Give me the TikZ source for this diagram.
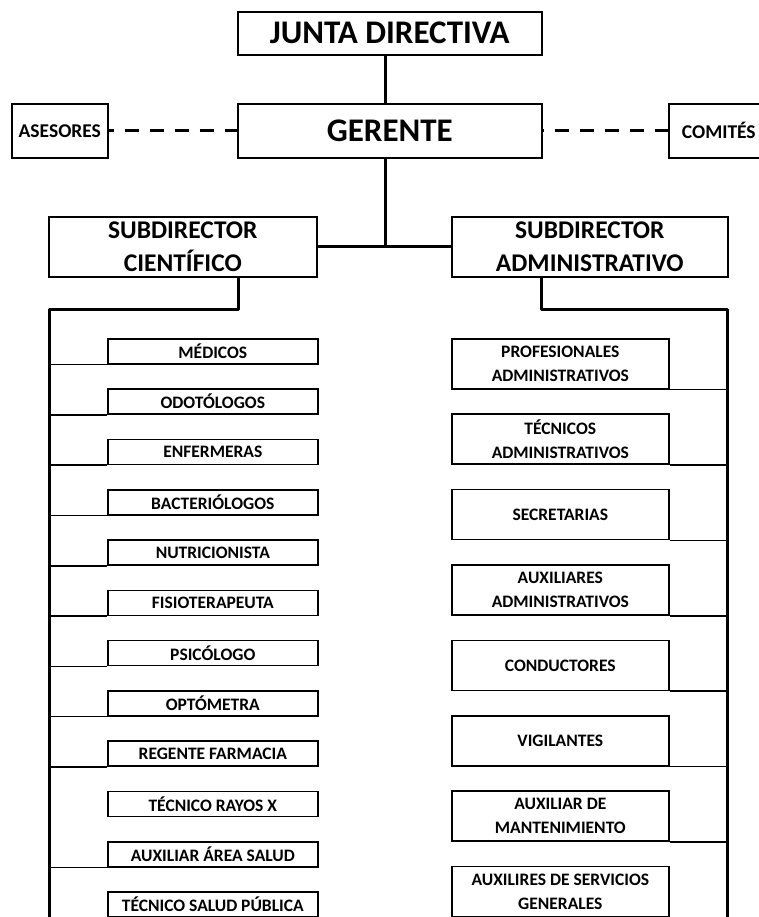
\documentclass[tikz,border=0pt]{standalone}
\usepackage{fontspec}
\setmainfont{Carlito}
\begin{document}
\begin{tikzpicture}[x=1pt,y=-1pt,
  box/.style={draw, line width=1.6pt, inner sep=0pt, anchor=north west, align=center, font=\bfseries},
  bigtxt/.style={font=\fontsize{33}{36}\selectfont\bfseries},
  subtxt/.style={font=\fontsize{25.5}{33}\selectfont\bfseries},
  sidetxt/.style={font=\fontsize{19.5}{22}\selectfont\bfseries},
  smalltxt/.style={font=\fontsize{17.5}{24}\selectfont\bfseries},
  main/.style={line width=3pt},
  dashline/.style={line width=3pt, dash pattern=on 14pt off 11pt},
  branch/.style={line width=1.5pt}]
\useasboundingbox (0,0) rectangle (758,917);
% top level
\node[box, bigtxt, minimum width=304pt, minimum height=43pt] (junta) at (237,11) {JUNTA DIRECTIVA};
\node[box, bigtxt, minimum width=304pt, minimum height=54pt] (gerente) at (237,103) {GERENTE};
\node[box, sidetxt, minimum width=96pt, minimum height=54pt] (asesores) at (11,103) {ASESORES};
\node[box, sidetxt, minimum width=100pt, minimum height=54pt] (comites) at (668,103) {COMITÉS};
\node[box, subtxt, minimum width=268pt, minimum height=60pt] (subc) at (48,216) {SUBDIRECTOR\\CIENTÍFICO};
\node[box, subtxt, minimum width=276pt, minimum height=60pt] (suba) at (451,216) {SUBDIRECTOR\\ADMINISTRATIVO};
% helper coordinates
\coordinate (spine) at (385,0);
\coordinate (lt) at (238,0);
\coordinate (lb1) at (238,309);
\coordinate (lb2) at (49,309);
\coordinate (lend) at (49,930);
\coordinate (rt) at (541,0);
\coordinate (rb1) at (541,309);
\coordinate (rb2) at (727,309);
\coordinate (rend) at (727,930);
% main connectors
\draw[main] (junta.south -| spine) -- (gerente.north -| spine);
\draw[main] (gerente.south -| spine) -- (spine |- subc.east);
\draw[main] (subc.east) -- (suba.west);
\draw[dashline, dash phase=9pt] (asesores.east) -- (gerente.west);
\draw[dashline, dash phase=13pt] (gerente.east) -- (comites.west);
\draw[main, line join=round] (subc.south -| lt) -- (lb1) -- (lb2) -- (lend);
\draw[main, line join=round] (suba.south -| rt) -- (rb1) -- (rb2) -- (rend);
% left column
\foreach \i/\t in {0/MÉDICOS,1/ODOTÓLOGOS,2/ENFERMERAS,3/BACTERIÓLOGOS,4/NUTRICIONISTA,5/FISIOTERAPEUTA,6/PSICÓLOGO,7/OPTÓMETRA,8/REGENTE FARMACIA,9/TÉCNICO RAYOS X,10/AUXILIAR ÁREA SALUD,11/TÉCNICO SALUD PÚBLICA}{
  \node[box, smalltxt, minimum width=210pt, minimum height=25pt] (l\i) at (107,{338+50.3*\i}) {\t};
}
\foreach \i in {0,1,2,3,4,5,6,7,8,10,11}{
  \draw[branch] (l\i.south west) -- (l\i.south west -| lend);
}
% right column
\foreach \i/\t in {0/PROFESIONALES\\ADMINISTRATIVOS,1/TÉCNICOS\\ADMINISTRATIVOS,2/SECRETARIAS,3/AUXILIARES\\ADMINISTRATIVOS,4/CONDUCTORES,5/VIGILANTES,6/AUXILIAR DE\\MANTENIMIENTO,7/AUXILIRES DE SERVICIOS\\GENERALES}{
  \node[box, smalltxt, minimum width=217pt, minimum height=50pt] (r\i) at (451,{338+75.4*\i}) {\t};
}
\foreach \i in {0,...,7}{
  \draw[branch] (r\i.south east) -- (r\i.south east -| rend);
}
\end{tikzpicture}
\end{document}
